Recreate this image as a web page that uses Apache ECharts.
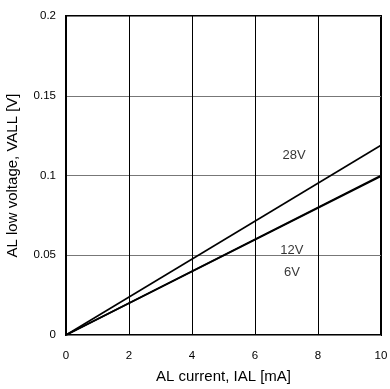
<!DOCTYPE html>
<html><head><meta charset="utf-8">
<script src="https://cdn.jsdelivr.net/npm/echarts@6/dist/echarts.min.js"></script>
<style>html,body{margin:0;padding:0;background:#fff}#c{width:390px;height:389px}</style>
</head><body><div id="c"></div>
<script>
const xTicks = [0, 2, 4, 6, 8, 10];
const yTicks = [0, 0.05, 0.1, 0.15, 0.2];
const line28V = [[0, 0], [10, 0.119]];
const line12V = [[0, 0], [10, 0.1]];
const line6V = [[0, 0], [10, 0.0995]];
const labelNames = ['28V', '12V', '6V'];
const labelPos = [[7.24, 0.1125], [7.17, 0.0529], [7.17, 0.039]];

const font = 'Liberation Sans, Arial, sans-serif';
const chart = echarts.init(document.getElementById('c'));
chart.setOption({
  animation: false,
  backgroundColor: '#fff',
  grid: {left: 66, right: 9, top: 16, bottom: 54, containLabel: false, outerBoundsMode: 'none',
         show: true, borderColor: '#000', borderWidth: 2, backgroundColor: 'transparent'},
  xAxis: {
    type: 'value', min: xTicks[0], max: xTicks[xTicks.length-1], interval: 2,
    name: 'AL current, IAL [mA]', nameLocation: 'middle', nameGap: 34,
    nameTextStyle: {fontFamily: font, fontSize: 15, color: '#000'},
    axisLine: {show: false}, axisTick: {show: false},
    axisLabel: {fontFamily: font, fontSize: 11.5, color: '#000', margin: 15},
    splitLine: {show: true, lineStyle: {color: '#000', width: 1}}
  },
  yAxis: {
    type: 'value', min: yTicks[0], max: yTicks[yTicks.length-1], interval: 0.05,
    name: 'AL low voltage, VALL [V]', nameLocation: 'middle', nameGap: 46,
    nameTextStyle: {fontFamily: font, fontSize: 15, color: '#000'},
    axisLine: {show: false}, axisTick: {show: false},
    axisLabel: {fontFamily: font, fontSize: 11.5, color: '#000', margin: 10},
    splitLine: {show: true, lineStyle: {color: '#777', width: 1}}
  },
  series: [
    {type: 'line', data: line28V, symbol: 'none', lineStyle: {color: '#000', width: 1.6}},
    {type: 'line', data: line12V, symbol: 'none', lineStyle: {color: '#000', width: 1.6}},
    {type: 'line', data: line6V, symbol: 'none', lineStyle: {color: '#000', width: 1.6}},
    {type: 'scatter', symbolSize: 0,
     data: labelPos.map((p, i) => ({value: p, name: labelNames[i]})),
     label: {show: true, position: 'inside', formatter: '{b}', fontFamily: font, fontSize: 13, color: '#000'}}
  ]
});
</script></body></html>
